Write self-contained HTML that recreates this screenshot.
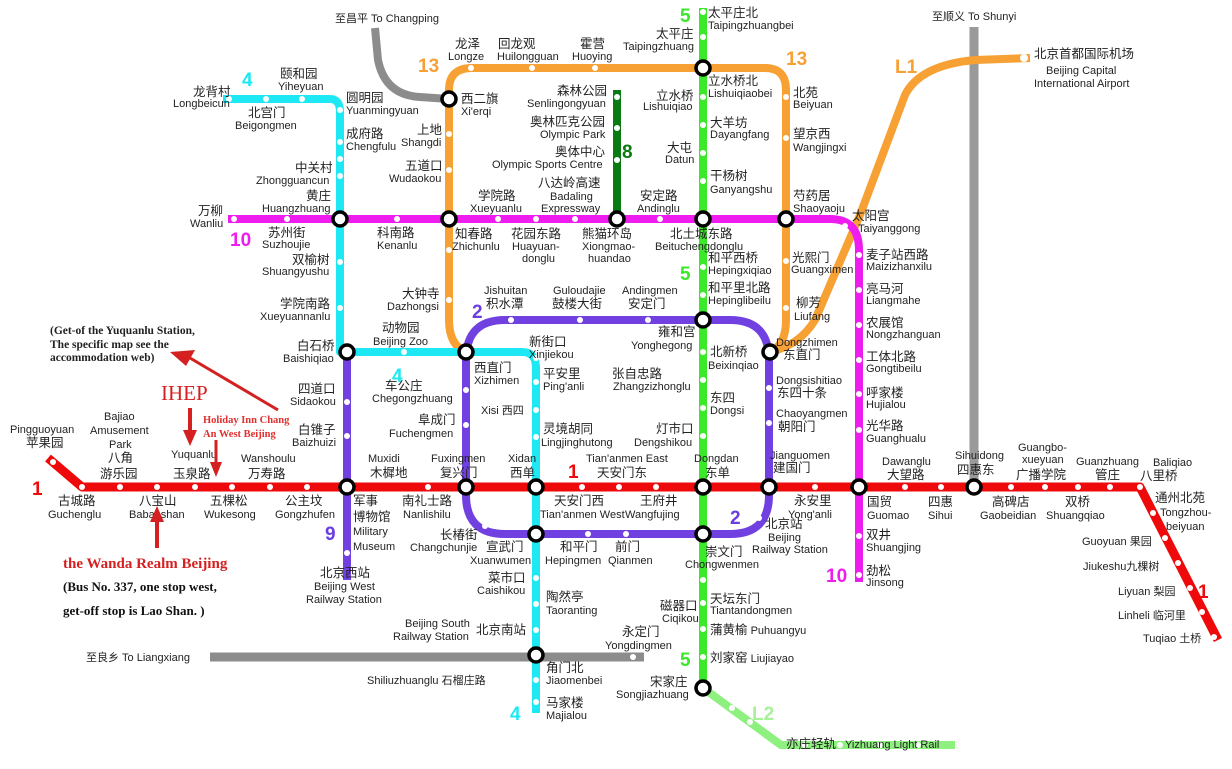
<!DOCTYPE html>
<html><head><meta charset="utf-8"><style>
html,body{margin:0;padding:0;background:#fff;}
svg{display:block;}
text{font-family:"Liberation Sans","Noto Sans CJK SC",sans-serif;fill:#222;font-size:11px;}
.c{font-size:12.5px;}
.n{font-weight:bold;font-size:19px;}
.s{font-family:"Liberation Serif","Noto Serif CJK SC",serif;font-weight:bold;}
</style></head><body>
<svg width="1232" height="769" viewBox="0 0 1232 769" xmlns="http://www.w3.org/2000/svg">
<g fill="none" stroke-linejoin="round" stroke-linecap="butt">
<path d="M375 28 L378 60 Q385 95 420 97 L449 99" stroke="#8c8c8c" stroke-width="8"/>
<path d="M974 27 V487" stroke="#9a9a9a" stroke-width="9"/>
<path d="M210 657 H644" stroke="#8c8c8c" stroke-width="9"/>
<path d="M770 352 Q800 345 815 320 L860 215 L905 95 Q920 65 975 60 L1030 58" stroke="#f7a033" stroke-width="8"/>
<path d="M466 352 Q449 345 449 320 V90 Q449 68 472 68 H765 Q786 68 786 90 V320 Q786 345 770 352" stroke="#f7a033" stroke-width="8"/>
<path d="M228 219 H830 Q859 219 859 250 V582" stroke="#ee1cee" stroke-width="8"/>
<path d="M617 90 V219" stroke="#0a7a12" stroke-width="8"/>
<path d="M703 8 V688" stroke="#3be82a" stroke-width="8"/>
<path d="M703 688 L781 745 H955" stroke="#8ef07e" stroke-width="8"/>
<path d="M223 99 H330 Q340 99 340 112 V352 H522 Q536 352 536 368 V713" stroke="#1ee8f4" stroke-width="8"/>
<path d="M347 352 V580" stroke="#7140e0" stroke-width="8"/>
<path d="M505 320 H730 Q769 320 769 360 V495 Q769 534 730 534 H505 Q466 534 466 495 V360 Q466 320 505 320 Z" stroke="#7140e0" stroke-width="8"/>
<path d="M48 458 L82 487 H1140 L1218 640" stroke="#ee0a0a" stroke-width="9"/>
</g>
<g fill="#fff">
<circle cx="53" cy="462" r="3"/><circle cx="120" cy="487" r="3"/><circle cx="157" cy="487" r="3"/><circle cx="195" cy="487" r="3"/><circle cx="232" cy="487" r="3"/><circle cx="270" cy="487" r="3"/><circle cx="307" cy="487" r="3"/><circle cx="82" cy="487" r="3"/>
<circle cx="428" cy="487" r="3"/><circle cx="582" cy="487" r="3"/><circle cx="619" cy="487" r="3"/><circle cx="656" cy="487" r="3"/><circle cx="815" cy="487" r="3"/><circle cx="905" cy="487" r="3"/><circle cx="941" cy="487" r="3"/><circle cx="1011" cy="487" r="3"/><circle cx="1045" cy="487" r="3"/><circle cx="1078" cy="487" r="3"/><circle cx="1110" cy="487" r="3"/><circle cx="1140" cy="487" r="3"/>
<circle cx="1153" cy="513" r="3"/><circle cx="1165" cy="538" r="3"/><circle cx="1178" cy="563" r="3"/><circle cx="1190" cy="588" r="3"/><circle cx="1202" cy="612" r="3"/><circle cx="1214" cy="637" r="3"/>
<circle cx="511" cy="320" r="3"/><circle cx="580" cy="320" r="3"/><circle cx="648" cy="320" r="3"/><circle cx="466" cy="390" r="3"/><circle cx="466" cy="425" r="3"/><circle cx="485" cy="526" r="3"/><circle cx="588" cy="534" r="3"/><circle cx="626" cy="534" r="3"/><circle cx="759" cy="518" r="3"/><circle cx="769" cy="388" r="3"/><circle cx="769" cy="423" r="3"/>
<circle cx="536" cy="358" r="3"/><circle cx="536" cy="382" r="3"/><circle cx="536" cy="410" r="3"/><circle cx="536" cy="437" r="3"/><circle cx="536" cy="578" r="3"/><circle cx="536" cy="604" r="3"/><circle cx="536" cy="630" r="3"/><circle cx="536" cy="680" r="3"/><circle cx="536" cy="702" r="3"/>
<circle cx="340" cy="159" r="3"/><circle cx="340" cy="142" r="3"/><circle cx="340" cy="176" r="3"/><circle cx="340" cy="262" r="3"/><circle cx="340" cy="308" r="3"/><circle cx="229" cy="99" r="3"/><circle cx="266" cy="99" r="3"/><circle cx="302" cy="99" r="3"/><circle cx="340" cy="110" r="3"/><circle cx="404" cy="352" r="3"/>
<circle cx="347" cy="402" r="3"/><circle cx="347" cy="436" r="3"/><circle cx="347" cy="553" r="3"/>
<circle cx="234" cy="219" r="3"/><circle cx="287" cy="219" r="3"/><circle cx="397" cy="219" r="3"/><circle cx="498" cy="219" r="3"/><circle cx="536" cy="219" r="3"/><circle cx="575" cy="219" r="3"/><circle cx="660" cy="219" r="3"/><circle cx="845" cy="226" r="3"/><circle cx="859" cy="255" r="3"/><circle cx="859" cy="290" r="3"/><circle cx="859" cy="325" r="3"/><circle cx="859" cy="360" r="3"/><circle cx="859" cy="394" r="3"/><circle cx="859" cy="430" r="3"/><circle cx="859" cy="536" r="3"/><circle cx="859" cy="575" r="3"/>
<circle cx="617" cy="97" r="3"/><circle cx="617" cy="128" r="3"/><circle cx="617" cy="160" r="3"/>
<circle cx="703" cy="12" r="3"/><circle cx="703" cy="37" r="3"/><circle cx="703" cy="97" r="3"/><circle cx="703" cy="125" r="3"/><circle cx="703" cy="153" r="3"/><circle cx="703" cy="181" r="3"/><circle cx="703" cy="267" r="3"/><circle cx="703" cy="295" r="3"/><circle cx="703" cy="352" r="3"/><circle cx="703" cy="380" r="3"/><circle cx="703" cy="408" r="3"/><circle cx="703" cy="436" r="3"/><circle cx="703" cy="580" r="3"/><circle cx="703" cy="603" r="3"/><circle cx="703" cy="629" r="3"/><circle cx="703" cy="657" r="3"/>
<circle cx="732" cy="708" r="3"/><circle cx="750" cy="722" r="3"/><circle cx="805" cy="745" r="3"/><circle cx="840" cy="745" r="3"/><circle cx="880" cy="745" r="3"/><circle cx="918" cy="745" r="3"/>
<circle cx="471" cy="68" r="3"/><circle cx="532" cy="68" r="3"/><circle cx="595" cy="68" r="3"/><circle cx="449" cy="134" r="3"/><circle cx="449" cy="170" r="3"/><circle cx="449" cy="250" r="3"/><circle cx="449" cy="300" r="3"/><circle cx="786" cy="97" r="3"/><circle cx="786" cy="138" r="3"/><circle cx="786" cy="261" r="3"/><circle cx="786" cy="308" r="3"/>
<circle cx="633" cy="657" r="3"/><circle cx="1024" cy="58" r="4"/>
</g>
<g fill="#fff" stroke="#000" stroke-width="3.5">
<circle cx="449" cy="99" r="7"/><circle cx="703" cy="68" r="7"/><circle cx="340" cy="219" r="7"/><circle cx="449" cy="219" r="7"/><circle cx="617" cy="219" r="7"/><circle cx="703" cy="219" r="7"/><circle cx="786" cy="219" r="7"/>
<circle cx="347" cy="352" r="7"/><circle cx="466" cy="352" r="7"/><circle cx="703" cy="320" r="7"/><circle cx="770" cy="352" r="7"/>
<circle cx="347" cy="487" r="7"/><circle cx="466" cy="487" r="7"/><circle cx="536" cy="487" r="7"/><circle cx="703" cy="487" r="7"/><circle cx="769" cy="487" r="7"/><circle cx="859" cy="487" r="7"/><circle cx="974" cy="487" r="7"/>
<circle cx="536" cy="534" r="7"/><circle cx="703" cy="534" r="7"/><circle cx="536" cy="655" r="7"/><circle cx="703" cy="688" r="7"/>
</g>
<text class="n" x="32" y="495" style="fill:#ee0a0a">1</text>
<text class="n" x="568" y="478" style="fill:#ee0a0a">1</text>
<text class="n" x="1198" y="598" style="fill:#ee0a0a">1</text>
<text class="n" x="472" y="318" style="fill:#6a3ee0">2</text>
<text class="n" x="730" y="524" style="fill:#6a3ee0">2</text>
<text class="n" x="242" y="86" style="fill:#1ee8f4">4</text>
<text class="n" x="392" y="382" style="fill:#1ee8f4">4</text>
<text class="n" x="510" y="720" style="fill:#1ee8f4">4</text>
<text class="n" x="680" y="22" style="fill:#3be82a">5</text>
<text class="n" x="680" y="280" style="fill:#3be82a">5</text>
<text class="n" x="680" y="666" style="fill:#3be82a">5</text>
<text class="n" x="622" y="158" style="fill:#0a7a12">8</text>
<text class="n" x="325" y="540" style="fill:#6a3ee0">9</text>
<text class="n" x="230" y="246" style="fill:#ee1cee">10</text>
<text class="n" x="826" y="582" style="fill:#ee1cee">10</text>
<text class="n" x="418" y="72" style="fill:#f7a033">13</text>
<text class="n" x="786" y="65" style="fill:#f7a033">13</text>
<text class="n" x="895" y="73" style="fill:#f7a033">L1</text>
<text class="n" x="752" y="720" style="fill:#a8f09a">L2</text>
<g>
<text x="335" y="22">至昌平 To Changping</text>
<text x="932" y="20">至顺义 To Shunyi</text>
<text class="c" x="1034" y="58">北京首都国际机场</text>
<text x="1046" y="74">Beijing Capital</text><text x="1034" y="87">International Airport</text>
<text x="86" y="661">至良乡 To Liangxiang</text>
<text class="c" x="708" y="17">太平庄北</text><text x="708" y="29">Taipingzhuangbei</text>
<text class="c" x="656" y="38">太平庄</text><text x="623" y="50">Taipingzhuang</text>
<text class="c" x="455" y="48">龙泽</text><text x="448" y="60">Longze</text>
<text class="c" x="498" y="48">回龙观</text><text x="497" y="60">Huilongguan</text>
<text class="c" x="580" y="48">霍营</text><text x="572" y="60">Huoying</text>
<text class="c" x="461" y="103">西二旗</text><text x="461" y="115">Xi'erqi</text>
<text class="c" x="557" y="95">森林公园</text><text x="527" y="107">Senlingongyuan</text>
<text class="c" x="530" y="126">奥林匹克公园</text><text x="540" y="138">Olympic Park</text>
<text class="c" x="555" y="156">奥体中心</text><text x="492" y="168">Olympic Sports Centre</text>
<text class="c" x="538" y="187">八达岭高速</text><text x="550" y="200">Badaling</text><text x="541" y="212">Expressway</text>
<text class="c" x="640" y="200">安定路</text><text x="637" y="212">Andinglu</text>
<text class="c" x="478" y="200">学院路</text><text x="470" y="212">Xueyuanlu</text>
<text class="c" x="417" y="134">上地</text><text x="401" y="146">Shangdi</text>
<text class="c" x="405" y="170">五道口</text><text x="389" y="182">Wudaokou</text>
<text class="c" x="708" y="85">立水桥北</text><text x="708" y="97">Lishuiqiaobei</text>
<text class="c" x="656" y="100">立水桥</text><text x="643" y="110">Lishuiqiao</text>
<text class="c" x="710" y="127">大羊坊</text><text x="710" y="138">Dayangfang</text>
<text class="c" x="667" y="152">大屯</text><text x="665" y="163">Datun</text>
<text class="c" x="710" y="180">干杨树</text><text x="710" y="193">Ganyangshu</text>
<text class="c" x="793" y="97">北苑</text><text x="793" y="108">Beiyuan</text>
<text class="c" x="793" y="138">望京西</text><text x="793" y="151">Wangjingxi</text>
<text class="c" x="793" y="200">芍药居</text><text x="793" y="212">Shaoyaoju</text>
<text class="c" x="852" y="220">太阳宫</text><text x="858" y="232">Taiyanggong</text>
<text class="c" x="866" y="259">麦子站西路</text><text x="866" y="270">Maizizhanxilu</text>
<text class="c" x="866" y="293">亮马河</text><text x="866" y="304">Liangmahe</text>
<text class="c" x="866" y="327">农展馆</text><text x="866" y="338">Nongzhanguan</text>
<text class="c" x="866" y="361">工体北路</text><text x="866" y="372">Gongtibeilu</text>
<text class="c" x="866" y="397">呼家楼</text><text x="866" y="408">Hujialou</text>
<text class="c" x="866" y="430">光华路</text><text x="866" y="442">Guanghualu</text>
<text class="c" x="792" y="262">光熙门</text><text x="791" y="273">Guangximen</text>
<text class="c" x="796" y="307">柳芳</text><text x="794" y="320">Liufang</text>
<text class="c" x="193" y="96">龙背村</text><text x="173" y="107">Longbeicun</text>
<text class="c" x="280" y="78">颐和园</text><text x="278" y="90">Yiheyuan</text>
<text class="c" x="248" y="117">北宫门</text><text x="235" y="129">Beigongmen</text>
<text class="c" x="346" y="102">圆明园</text><text x="346" y="114">Yuanmingyuan</text>
<text class="c" x="346" y="138">成府路</text><text x="346" y="150">Chengfulu</text>
<text class="c" x="295" y="172">中关村</text><text x="256" y="184">Zhongguancun</text>
<text class="c" x="306" y="200">黄庄</text><text x="262" y="212">Huangzhuang</text>
<text class="c" x="198" y="215">万柳</text><text x="190" y="227">Wanliu</text>
<text class="c" x="268" y="237">苏州街</text><text x="262" y="248">Suzhoujie</text>
<text class="c" x="292" y="264">双榆树</text><text x="262" y="275">Shuangyushu</text>
<text class="c" x="280" y="308">学院南路</text><text x="260" y="320">Xueyuannanlu</text>
<text class="c" x="377" y="237">科南路</text><text x="377" y="249">Kenanlu</text>
<text class="c" x="455" y="238">知春路</text><text x="452" y="250">Zhichunlu</text>
<text class="c" x="511" y="238">花园东路</text><text x="512" y="250">Huayuan-</text><text x="522" y="262">donglu</text>
<text class="c" x="582" y="238">熊猫环岛</text><text x="582" y="250">Xiongmao-</text><text x="588" y="262">huandao</text>
<text class="c" x="670" y="238">北土城东路</text><text x="655" y="250">Beituchengdonglu</text>
<text class="c" x="708" y="262">和平西桥</text><text x="708" y="274">Hepingxiqiao</text>
<text class="c" x="708" y="292">和平里北路</text><text x="708" y="304">Hepinglibeilu</text>
<text class="c" x="402" y="298">大钟寺</text><text x="387" y="310">Dazhongsi</text>
<text x="484" y="294">Jishuitan</text><text class="c" x="486" y="308">积水潭</text>
<text x="553" y="294">Guloudajie</text><text class="c" x="552" y="308">鼓楼大街</text>
<text x="622" y="294">Andingmen</text><text class="c" x="628" y="308">安定门</text>
<text class="c" x="658" y="336">雍和宫</text><text x="631" y="349">Yonghegong</text>
<text class="c" x="382" y="332">动物园</text><text x="373" y="345">Beijing Zoo</text>
<text class="c" x="297" y="350">白石桥</text><text x="283" y="362">Baishiqiao</text>
<text class="c" x="298" y="393">四道口</text><text x="290" y="405">Sidaokou</text>
<text class="c" x="298" y="434">白锥子</text><text x="292" y="446">Baizhuizi</text>
<text class="c" x="474" y="372">西直门</text><text x="474" y="384">Xizhimen</text>
<text class="c" x="529" y="346">新街口</text><text x="529" y="358">Xinjiekou</text>
<text class="c" x="543" y="378">平安里</text><text x="543" y="390">Ping'anli</text>
<text x="481" y="414">Xisi 西四</text>
<text class="c" x="543" y="433">灵境胡同</text><text x="541" y="446">Lingjinghutong</text>
<text class="c" x="612" y="378">张自忠路</text><text x="613" y="390">Zhangzizhonglu</text>
<text class="c" x="656" y="433">灯市口</text><text x="634" y="446">Dengshikou</text>
<text class="c" x="710" y="356">北新桥</text><text x="708" y="369">Beixinqiao</text>
<text class="c" x="710" y="402">东四</text><text x="710" y="414">Dongsi</text>
<text x="776" y="346">Dongzhimen</text><text class="c" x="783" y="359">东直门</text>
<text x="776" y="384">Dongsishitiao</text><text class="c" x="777" y="397">东四十条</text>
<text x="776" y="417">Chaoyangmen</text><text class="c" x="778" y="431">朝阳门</text>
<text x="770" y="459">Jianguomen</text><text class="c" x="773" y="472">建国门</text>
<text class="c" x="385" y="390">车公庄</text><text x="372" y="402">Chegongzhuang</text>
<text class="c" x="418" y="424">阜成门</text><text x="389" y="437">Fuchengmen</text>
<text x="431" y="462">Fuxingmen</text><text class="c" x="440" y="477">复兴门</text>
<text x="508" y="462">Xidan</text><text class="c" x="510" y="477">西单</text>
<text x="586" y="462">Tian'anmen East</text><text class="c" x="597" y="477">天安门东</text>
<text x="694" y="462">Dongdan</text><text class="c" x="705" y="477">东单</text>
<text x="10" y="433">Pingguoyuan</text><text class="c" x="26" y="447">苹果园</text>
<text x="104" y="420">Bajiao</text><text x="90" y="434">Amusement</text><text x="109" y="448">Park</text><text class="c" x="108" y="462">八角</text><text class="c" x="100" y="478">游乐园</text>
<text x="171" y="458">Yuquanlu</text><text class="c" x="173" y="478">玉泉路</text>
<text x="241" y="462">Wanshoulu</text><text class="c" x="248" y="478">万寿路</text>
<text class="c" x="58" y="505">古城路</text><text x="48" y="518">Guchenglu</text>
<text class="c" x="139" y="505">八宝山</text><text x="129" y="518">Babaoshan</text>
<text class="c" x="210" y="505">五棵松</text><text x="204" y="518">Wukesong</text>
<text class="c" x="285" y="505">公主坟</text><text x="275" y="518">Gongzhufen</text>
<text class="c" x="353" y="505">军事</text><text class="c" x="353" y="521">博物馆</text><text x="353" y="535">Military</text><text x="353" y="550">Museum</text>
<text x="368" y="462">Muxidi</text><text class="c" x="370" y="477">木樨地</text>
<text class="c" x="402" y="505">南礼士路</text><text x="403" y="518">Nanlishilu</text>
<text class="c" x="440" y="539">长椿街</text><text x="410" y="551">Changchunjie</text>
<text class="c" x="486" y="551">宣武门</text><text x="470" y="564">Xuanwumen</text>
<text class="c" x="554" y="505">天安门西</text><text x="540" y="518">Tian'anmen West</text>
<text class="c" x="640" y="505">王府井</text><text x="625" y="518">Wangfujing</text>
<text class="c" x="560" y="551">和平门</text><text x="545" y="564">Hepingmen</text>
<text class="c" x="615" y="551">前门</text><text x="608" y="564">Qianmen</text>
<text class="c" x="705" y="556">崇文门</text><text x="685" y="568">Chongwenmen</text>
<text class="c" x="794" y="505">永安里</text><text x="788" y="518">Yong'anli</text>
<text class="c" x="765" y="528">北京站</text><text x="768" y="541">Beijing</text><text x="752" y="553">Railway Station</text>
<text class="c" x="867" y="506">国贸</text><text x="867" y="519">Guomao</text>
<text class="c" x="928" y="506">四惠</text><text x="928" y="519">Sihui</text>
<text x="955" y="459">Sihuidong</text><text class="c" x="957" y="474">四惠东</text>
<text x="882" y="465">Dawanglu</text><text class="c" x="887" y="479">大望路</text>
<text x="1018" y="451">Guangbo-</text><text x="1022" y="463">xueyuan</text><text class="c" x="1016" y="479">广播学院</text>
<text x="1076" y="465">Guanzhuang</text><text class="c" x="1095" y="479">管庄</text>
<text x="1153" y="466">Baliqiao</text><text class="c" x="1140" y="480">八里桥</text>
<text class="c" x="992" y="506">高碑店</text><text x="980" y="519">Gaobeidian</text>
<text class="c" x="1065" y="506">双桥</text><text x="1046" y="519">Shuangqiao</text>
<text class="c" x="1155" y="502">通州北苑</text><text x="1160" y="516">Tongzhou-</text><text x="1166" y="530">beiyuan</text>
<text x="1082" y="545">Guoyuan 果园</text>
<text x="1083" y="570">Jiukeshu九棵树</text>
<text x="1118" y="595">Liyuan 梨园</text>
<text x="1118" y="619">Linheli 临河里</text>
<text x="1143" y="642">Tuqiao 土桥</text>
<text class="c" x="866" y="539">双井</text><text x="866" y="551">Shuangjing</text>
<text class="c" x="866" y="575">劲松</text><text x="866" y="586">Jinsong</text>
<text class="c" x="320" y="577">北京西站</text><text x="314" y="590">Beijing West</text><text x="306" y="603">Railway Station</text>
<text class="c" x="488" y="582">菜市口</text><text x="477" y="594">Caishikou</text>
<text class="c" x="546" y="601">陶然亭</text><text x="546" y="614">Taoranting</text>
<text x="405" y="627">Beijing South</text><text x="393" y="640">Railway Station</text><text class="c" x="476" y="634">北京南站</text>
<text class="c" x="622" y="636">永定门</text><text x="605" y="649">Yongdingmen</text>
<text class="c" x="546" y="672">角门北</text><text x="546" y="684">Jiaomenbei</text>
<text x="367" y="684">Shiliuzhuanglu 石榴庄路</text>
<text class="c" x="546" y="707">马家楼</text><text x="546" y="719">Majialou</text>
<text class="c" x="660" y="610">磁器口</text><text x="662" y="622">Ciqikou</text>
<text class="c" x="710" y="603">天坛东门</text><text x="710" y="614">Tiantandongmen</text>
<text x="710" y="634"><tspan class="c">蒲黄榆</tspan> Puhuangyu</text>
<text x="710" y="662"><tspan class="c">刘家窑</tspan> Liujiayao</text>
<text class="c" x="650" y="686">宋家庄</text><text x="616" y="698">Songjiazhuang</text>
<text class="c" x="786" y="748">亦庄轻轨</text><text x="845" y="748">Yizhuang Light Rail</text>
</g>
<g>
<text class="s" x="50" y="334" style="font-size:11.5px">(Get-of the Yuquanlu Station,</text>
<text class="s" x="50" y="348" style="font-size:11.5px">The specific map see the</text>
<text class="s" x="50" y="361" style="font-size:11.5px">accommodation web)</text>
<path d="M278 410 L190 358" stroke="#d42020" stroke-width="3"/>
<polygon points="170,352 195,350 186,366" fill="#d42020"/>
<text x="161" y="400" style="font-family:'Liberation Serif',serif;font-size:21px;fill:#d42020">IHEP</text>
<path d="M190 408 V432" stroke="#d42020" stroke-width="4"/><polygon points="183,430 197,430 190,446" fill="#d42020"/>
<text class="s" x="203" y="423" style="font-size:10.5px;fill:#e03030">Holiday Inn Chang</text>
<text class="s" x="203" y="437" style="font-size:10.5px;fill:#e03030">An West Beijing</text>
<path d="M216 440 V464" stroke="#d42020" stroke-width="3"/><polygon points="210,462 222,462 216,477" fill="#d42020"/>
<path d="M157 548 V522" stroke="#d42020" stroke-width="4"/><polygon points="150,522 164,522 157,506" fill="#d42020"/>
<text class="s" x="63" y="568" style="font-size:15px;fill:#d42020">the Wanda Realm Beijing</text>
<text class="s" x="63" y="591" style="font-size:13px;fill:#111">(Bus No. 337, one stop west,</text>
<text class="s" x="63" y="615" style="font-size:13px;fill:#111">get-off stop is Lao Shan. )</text>
</g>
</svg>
</body></html>
